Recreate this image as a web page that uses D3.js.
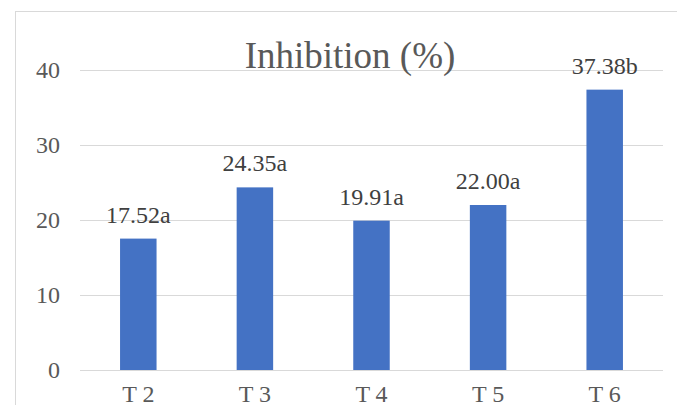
<!DOCTYPE html>
<html>
<head>
<meta charset="utf-8">
<script src="https://cdn.jsdelivr.net/npm/d3@7/dist/d3.min.js"></script>
<style>
  html, body { margin: 0; padding: 0; background: #fff; }
  svg { display: block; }
  svg text { font-family: "Liberation Serif", "Tinos", "Times New Roman", Times, "DejaVu Serif", serif !important; }
</style>
</head>
<body>
<svg id="chart" width="677" height="405"></svg>
<script>
// Treatments and their inhibition percentages with significance letters
const categories = ["T 2", "T 3", "T 4", "T 5", "T 6"];
const inhibition = [17.52, 24.35, 19.91, 22.00, 37.38];
const groupLetters = ["a", "a", "a", "a", "b"];
const yTicks = [0, 10, 20, 30, 40];
const chartTitle = "Inhibition (%)";

const svg = d3.select("#chart");
const W = 677, H = 405;
const plot = { left: 80, right: 663, top: 70, bottom: 370 };

// Chart area frame
svg.append("rect")
  .attr("x", 15.5).attr("y", 11.5)
  .attr("width", W + 10).attr("height", H + 10)
  .attr("fill", "#fff").attr("stroke", "#d9d9d9").attr("stroke-width", 1);

const x = d3.scaleBand()
  .domain(categories)
  .range([plot.left, plot.right])
  .paddingInner(0.687)
  .paddingOuter(0.3435);

const y = d3.scaleLinear()
  .domain([0, 40])
  .range([plot.bottom, plot.top]);

// Horizontal gridlines
svg.append("g")
  .selectAll("line")
  .data(yTicks)
  .join("line")
  .attr("x1", plot.left).attr("x2", plot.right)
  .attr("y1", d => Math.round(y(d)) + 0.5)
  .attr("y2", d => Math.round(y(d)) + 0.5)
  .attr("stroke", "#d9d9d9").attr("stroke-width", 1.2);

// Y axis tick labels
const yAxis = d3.axisLeft(y).tickValues(yTicks).tickSize(0).tickPadding(0);
const yg = svg.append("g")
  .attr("transform", `translate(${plot.left - 20},0)`)
  .call(yAxis)
  .attr("font-family", null);
yg.select(".domain").remove();
yg.selectAll("text")
  .attr("font-size", 24)
  .attr("fill", "#595959");

// Category labels
const xAxis = d3.axisBottom(x).tickSize(0).tickPadding(0);
const xg = svg.append("g")
  .attr("transform", `translate(0,${plot.bottom})`)
  .call(xAxis)
  .attr("font-family", null);
xg.select(".domain").remove();
xg.selectAll("text")
  .attr("y", 32)
  .attr("dy", 0)
  .attr("font-size", 24)
  .attr("fill", "#595959");

// Bars
svg.append("g")
  .selectAll("rect")
  .data(inhibition)
  .join("rect")
  .attr("x", (d, i) => x(categories[i]))
  .attr("width", x.bandwidth())
  .attr("y", d => y(d))
  .attr("height", d => y(0) - y(d))
  .attr("fill", "#4472c4");

// Value labels with significance letters
svg.append("g")
  .selectAll("text")
  .data(inhibition)
  .join("text")
  .attr("x", (d, i) => x(categories[i]) + x.bandwidth() / 2)
  .attr("y", d => y(d) - 16)
  .attr("text-anchor", "middle")
  .attr("font-size", 24)
  .attr("fill", "#404040")
  .text((d, i) => d.toFixed(2) + groupLetters[i]);

// Title
svg.append("text")
  .attr("x", 350)
  .attr("y", 68)
  .attr("text-anchor", "middle")
  .attr("font-size", 37)
  .attr("fill", "#595959")
  .text(chartTitle);
</script>
</body>
</html>
